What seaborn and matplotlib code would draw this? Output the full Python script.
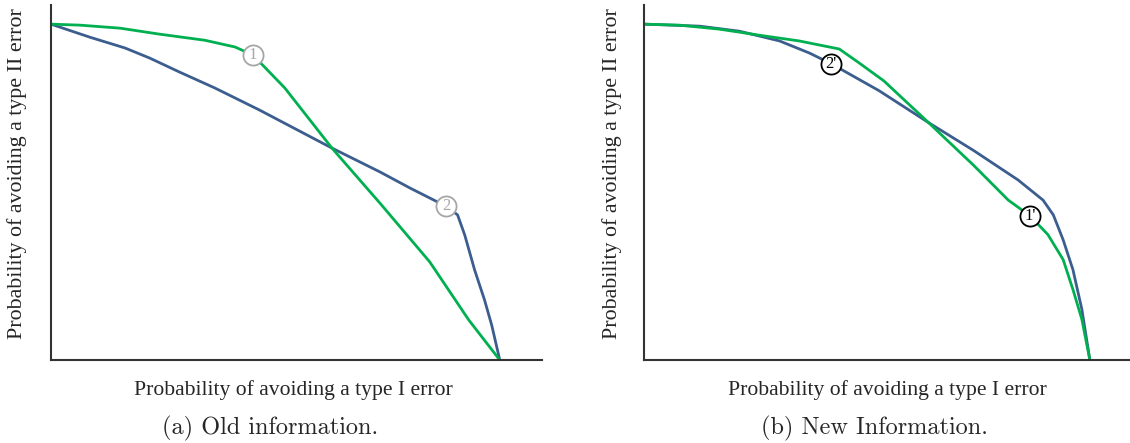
import matplotlib
matplotlib.use("Agg")
import matplotlib.pyplot as plt
import seaborn as sns
import pandas as pd

# Curves (x: avoiding type I error, y: avoiding type II error)
old_green_x = [0.000, 0.065, 0.154, 0.243, 0.343, 0.410, 0.450, 0.521, 0.626, 0.735, 0.844, 0.931, 1.000]
old_green_y = [1.000, 0.997, 0.988, 0.970, 0.952, 0.932, 0.908, 0.810, 0.631, 0.464, 0.292, 0.119, 0.000]
old_blue_x = [0.000, 0.087, 0.165, 0.220, 0.287, 0.365, 0.465, 0.626, 0.733, 0.800, 0.880, 0.906, 0.922, 0.944, 0.966, 0.982, 1.000]
old_blue_y = [1.000, 0.961, 0.929, 0.899, 0.857, 0.810, 0.744, 0.631, 0.560, 0.512, 0.458, 0.432, 0.372, 0.268, 0.179, 0.104, 0.000]

new_green_x = [0.000, 0.080, 0.170, 0.259, 0.348, 0.438, 0.482, 0.538, 0.638, 0.739, 0.817, 0.866, 0.906, 0.940, 0.962, 0.982, 1.000]
new_green_y = [1.000, 0.997, 0.985, 0.967, 0.950, 0.926, 0.885, 0.831, 0.707, 0.580, 0.476, 0.429, 0.373, 0.299, 0.210, 0.121, 0.000]
new_blue_x = [0.000, 0.125, 0.214, 0.304, 0.371, 0.420, 0.527, 0.638, 0.739, 0.839, 0.895, 0.918, 0.940, 0.962, 0.982, 1.000]
new_blue_y = [1.000, 0.994, 0.979, 0.950, 0.914, 0.882, 0.802, 0.707, 0.624, 0.536, 0.476, 0.432, 0.358, 0.269, 0.151, 0.000]

# point labels: (label, x, y)
old_points = [("1", 0.450, 0.908), ("2", 0.880, 0.458)]
new_points = [("2'", 0.420, 0.882), ("1'", 0.866, 0.429)]

captions = ["(a) Old information.", "(b) New Information."]
xlabel = "Probability of avoiding a type I error"
ylabel = "Probability of avoiding a type II error"

GREEN = "#00b050"
BLUE = "#3b5e8e"

sns.set_style("white")
plt.rcParams["font.family"] = ["Liberation Serif", "DejaVu Serif"]

fig = plt.figure(figsize=(11.3, 4.43), dpi=100)
ax_old = fig.add_axes([0.0451, 0.1874, 0.4345, 0.8013])
ax_new = fig.add_axes([0.5699, 0.1874, 0.4301, 0.8013])

panels = [
    (ax_old, old_green_x, old_green_y, old_blue_x, old_blue_y, old_points, "#a6a6a6"),
    (ax_new, new_green_x, new_green_y, new_blue_x, new_blue_y, new_points, "black"),
]

for i, (ax, gx, gy, bx, by, pts, mcol) in enumerate(panels):
    df_g = pd.DataFrame({"x": gx, "y": gy})
    df_b = pd.DataFrame({"x": bx, "y": by})
    sns.lineplot(data=df_b, x="x", y="y", sort=False, color=BLUE, lw=2, ax=ax)
    sns.lineplot(data=df_g, x="x", y="y", sort=False, color=GREEN, lw=2, ax=ax)
    for lab, px, py in pts:
        ax.scatter([px], [py], s=210, facecolor="white", edgecolor=mcol,
                   linewidth=1.3, zorder=5)
        ax.text(px, py, lab, ha="center", va="center", fontsize=12,
                color=mcol, zorder=6)
    ax.set_xlim(0, 1.094 if i == 0 else 1.09)
    ax.set_ylim(0, 1.057)
    ax.set_xticks([])
    ax.set_yticks([])
    for s in ["top", "right"]:
        ax.spines[s].set_visible(False)
    for s in ["left", "bottom"]:
        ax.spines[s].set_color("#333333")
        ax.spines[s].set_linewidth(1.5)
    ax.set_xlabel("")
    ax.set_ylabel("")

# axis labels and captions
fig.text(0.0150, 0.609, ylabel, rotation=90, ha="center", va="center", fontsize=15.8)
fig.text(0.5416, 0.609, ylabel, rotation=90, ha="center", va="center", fontsize=15.8)
fig.text(0.2600, 0.120, xlabel, ha="center", va="center", fontsize=15.6)
fig.text(0.7850, 0.120, xlabel, ha="center", va="center", fontsize=15.6)
fig.text(0.2390, 0.034, captions[0], ha="center", va="center", fontsize=17.5, family="cmr10")
fig.text(0.7740, 0.034, captions[1], ha="center", va="center", fontsize=17.5, family="cmr10")

fig.savefig("out.png", dpi=100)
